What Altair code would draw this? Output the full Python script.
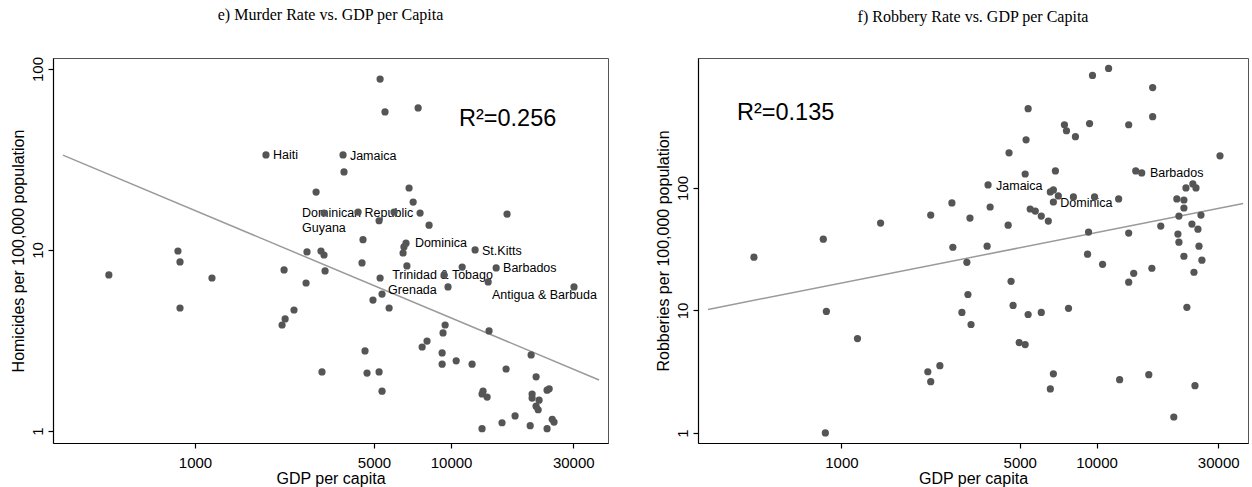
import altair as alt
import pandas as pd

# ---------------- e) homicides vs GDP per capita ----------------
murder_gdp = [461, 858, 874, 874, 1165, 1893, 2228, 2436, 2249, 2188,
              2715, 2738, 2971, 3105, 3190, 3221, 3133, 3190, 3786, 3819,
              4335, 4530, 4490, 4613, 4698, 5283, 5521, 5235, 5283, 5376,
              4955, 5729, 5235, 5376, 5988, 6855, 7112, 7437, 7568, 8206,
              6668, 6546, 6494, 6723, 7710, 8056, 9391, 9730, 9480, 9304,
              9228, 9228, 10470, 11050, 12410, 12080, 15000, 13960, 14070, 13330,
              13210, 13830, 13210, 15810, 16400, 16540, 17780, 20540, 21480, 20720,
              20720, 22060, 21480, 21880, 20370, 23710, 24160, 23710, 24830, 25240,
              30200]
murder_rate = [7.28, 9.87, 8.59, 4.78, 7.0, 33.5, 7.76, 4.66, 4.16, 3.85,
               6.57, 9.75, 20.9, 9.87, 9.38, 7.66, 2.12, 16.0, 33.5, 27.0,
               16.2, 11.4, 8.48, 2.77, 2.09, 88.0, 57.9, 14.5, 7.0, 5.71,
               5.29, 4.78, 2.12, 1.66, 16.2, 22.0, 18.4, 60.9, 16.0, 13.7,
               10.9, 10.4, 9.62, 8.16, 2.91, 3.14, 7.28, 6.25, 3.85, 3.48,
               2.70, 2.34, 2.44, 8.05, 10.0, 2.34, 7.96, 6.66, 3.57, 1.66,
               1.60, 1.54, 1.03, 1.11, 2.20, 15.8, 1.21, 2.63, 1.99, 1.60,
               1.52, 1.48, 1.37, 1.31, 1.07, 1.68, 1.71, 1.03, 1.16, 1.12,
               6.25]

murder_label_names = ["Haiti", "Jamaica", "Dominican Republic", "Guyana", "Dominica",
                      "St.Kitts", "Trinidad & Tobago", "Grenada", "Barbados",
                      "Antigua & Barbuda"]
murder_label_gdp = [2018, 4027, 2618, 2618, 7223, 13210, 5887, 5677, 15960, 14450]
murder_label_rate = [33.5, 33.1, 16.0, 13.2, 10.9, 9.87, 7.28, 6.01, 7.96, 5.64]

murder_fit_gdp = [305, 37840]
murder_fit_rate = [33.4, 1.913]
murder_r2 = "R²=0.256"

# ---------------- f) robberies vs GDP per capita ----------------
robbery_gdp = [454, 849, 873, 865, 1156, 1424, 2181, 2239, 2432, 2239,
               2711, 2734, 2967, 3103, 3133, 3222, 3191, 3757, 3828, 3725,
               4504, 4540, 4624, 4709, 4974, 5252, 5252, 5295, 5394, 5394,
               5495, 5754, 6074, 6074, 6473, 6591, 6775, 6775, 7083, 6591,
               6775, 6901, 7486, 7625, 7766, 8117, 8267, 9222, 9306, 9391,
               9643, 9823, 10560, 11150, 12210, 12320, 13370, 13370, 13370, 13990,
               14250, 15040, 16030, 16480, 16600, 16600, 17860, 20090, 20650, 22010,
               22010, 21040, 20850, 21040, 22010, 22420, 22610, 23860, 24540, 23660,
               24980, 24100, 24320, 25220, 25670, 25890, 30480]
robbery_rate = [27.2, 38.2, 9.82, 1.0, 5.89, 51.7, 3.16, 2.62, 3.54, 60.1,
                75.4, 32.8, 9.63, 24.7, 13.5, 7.68, 56.8, 105.8, 69.9, 33.5,
                49.7, 193.6, 17.3, 11.0, 5.47, 5.27, 130.0, 247.0, 444.0, 9.27,
                67.3, 64.8, 58.9, 9.63, 53.7, 92.7, 96.3, 76.8, 86.0, 2.29,
                3.04, 137.8, 328.0, 293.0, 10.4, 84.4, 262.0, 28.8, 43.6, 335.0,
                828.0, 84.4, 23.8, 945.0, 81.3, 2.72, 328.0, 42.8, 17.0, 20.1,
                137.8, 132.7, 2.99, 22.1, 660.0, 382.0, 48.8, 1.35, 81.3, 79.7,
                68.6, 58.9, 42.0, 36.1, 27.7, 100.0, 10.6, 107.9, 100.0, 50.7,
                46.1, 20.5, 2.43, 33.5, 60.1, 25.7, 183.0]

robbery_label_names = ["Jamaica", "Dominica", "Barbados"]
robbery_label_gdp = [4037, 7213, 16190]
robbery_label_rate = [103.8, 75.4, 132.7]

robbery_fit_gdp = [300, 37580]
robbery_fit_rate = [10.2, 74.5]
robbery_r2 = "R²=0.135"

SANS = "Liberation Sans"
SERIF = "Liberation Serif"
DOT = "#555555"
PLOT_H = 385


def panel(title, ytitle, gdp, rate, lab_names, lab_gdp, lab_rate,
          fit_gdp, fit_rate, r2_text, r2_xy, xdomain, ydomain, width):
    xs = alt.Scale(type="log", domain=xdomain, nice=False)
    ys = alt.Scale(type="log", domain=ydomain, nice=False)
    xax = alt.Axis(values=[1000, 5000, 10000, 30000], format="d",
                   title="GDP per capita", labelFontSize=15, titleFontSize=16,
                   labelPadding=7, titlePadding=0, tickSize=5)
    yax = alt.Axis(values=[1, 10, 100], format="d", title=ytitle,
                   labelAngle=270, labelAlign="center", labelBaseline="bottom",
                   labelFontSize=15, titleFontSize=16, labelPadding=3,
                   titlePadding=4, tickSize=5)

    def enc(chart):
        return chart.encode(
            x=alt.X("gdp:Q", scale=xs, axis=xax),
            y=alt.Y("rate:Q", scale=ys, axis=yax),
        )

    pts = pd.DataFrame({"gdp": gdp, "rate": rate})
    labs = pd.DataFrame({"gdp": lab_gdp, "rate": lab_rate, "name": lab_names})
    fit = pd.DataFrame({"gdp": fit_gdp, "rate": fit_rate})

    fit_line = enc(alt.Chart(fit).mark_line(color="#9a9a9a", strokeWidth=1.5))
    labels = enc(alt.Chart(labs).mark_text(
        align="left", baseline="middle", font=SANS, fontSize=12.5, color="black"
    )).encode(text="name:N")
    dots = enc(alt.Chart(pts).mark_circle(size=52, color=DOT, opacity=1))
    r2 = alt.Chart(pd.DataFrame({"t": [r2_text]})).mark_text(
        align="left", baseline="middle", font=SANS, fontSize=23.5, color="black"
    ).encode(x=alt.value(r2_xy[0]), y=alt.value(r2_xy[1]), text="t:N")

    return alt.layer(fit_line, labels, dots, r2).properties(
        width=width,
        height=PLOT_H,
        title=alt.TitleParams(text=title, font=SERIF, fontSize=16,
                              fontWeight="normal", color="black",
                              anchor="middle", frame="group", offset=33),
    )


left = panel("e) Murder Rate vs. GDP per Capita",
             "Homicides per 100,000 population",
             murder_gdp, murder_rate,
             murder_label_names, murder_label_gdp, murder_label_rate,
             murder_fit_gdp, murder_fit_rate, murder_r2, (406, 61),
             [279, 41000], [0.858, 115], 555)

right = panel("f) Robbery Rate vs. GDP per Capita",
              "Robberies per 100,000 population",
              robbery_gdp, robbery_rate,
              robbery_label_names, robbery_label_gdp, robbery_label_rate,
              robbery_fit_gdp, robbery_fit_rate, robbery_r2, (39, 55),
              [274, 39250], [0.828, 1150], 550)

chart = alt.hconcat(left, right, spacing=45).properties(
    padding={"left": 9, "top": 6, "right": 0, "bottom": 0},
    background="white",
).configure_view(
    stroke="#555555", strokeWidth=1
).configure_axis(
    grid=False, domainColor="black", tickColor="black", labelColor="black",
    titleColor="black", labelFont=SANS, titleFont=SANS,
    titleFontWeight="normal", domainWidth=1.2, tickWidth=1.2,
)

chart.save("out.html", embed_options={"renderer": "svg", "actions": False})
